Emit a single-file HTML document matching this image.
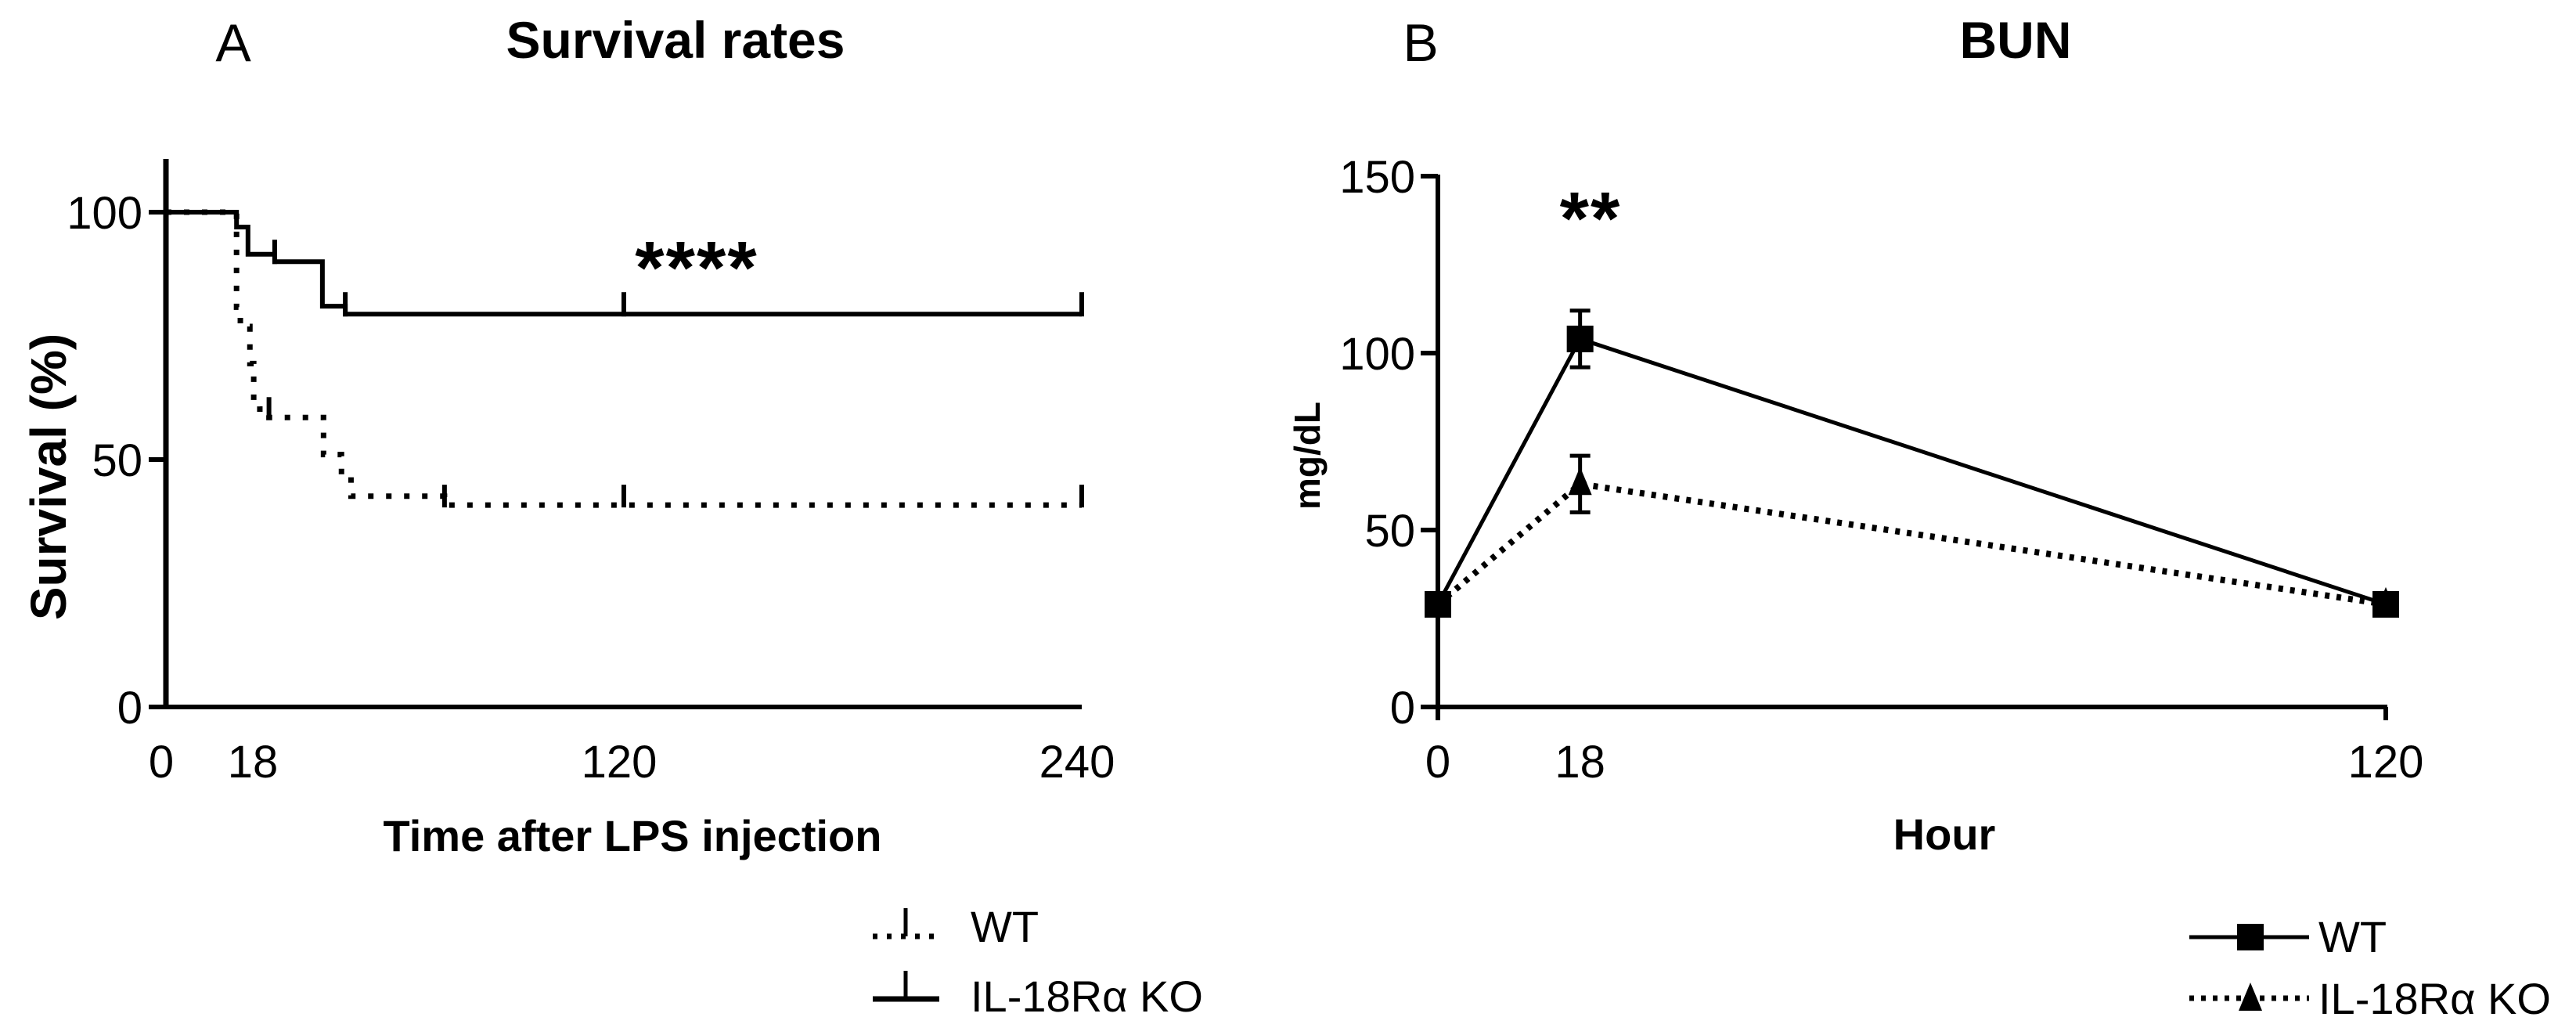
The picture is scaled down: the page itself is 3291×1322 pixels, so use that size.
<!DOCTYPE html>
<html><head><meta charset="utf-8"><style>
html,body{margin:0;padding:0;background:#fff;}
svg{display:block;font-family:"Liberation Sans",Arial,sans-serif;}
</style></head><body>
<svg id="fig" width="3291" height="1322" viewBox="0 0 3291 1322" xmlns="http://www.w3.org/2000/svg">
<g id="pa"></g>
<g id="pb"></g>
</svg>
<script>
// Panel A data (Kaplan-Meier)
const koTimes = [0, 18.5, 21.5, 28.5, 41, 47, 240];
const koSurv  = [100, 97, 91.5, 90, 81, 79.4, 79.4];
const koCensor = [28.5, 47, 120, 240];
const wtTimes = [0, 18.5, 19.5, 22, 23, 24.6, 27, 41.3, 46, 48.5, 73, 240];
const wtSurv  = [100, 80.8, 76.9, 69.4, 61, 60.2, 58.5, 51, 46.8, 42.6, 40.8, 40.8];
const wtCensor = [27, 73, 120, 240];
const aYTicks = [0, 50, 100];
const aXLabels = ["0", "18", "120", "240"];
const aXLabelPos = [0, 24, 120, 240];
// Panel B data
const bHours = [0, 18, 120];
const bWT = [29, 104, 29];
const bWTerr = [0, 8, 0];
const bKO = [29, 63, 29];
const bKOerr = [0, 8, 0];
const bYTicks = [0, 50, 100, 150];
const bXTicks = [0, 18, 120];

const NS = "http://www.w3.org/2000/svg";
function mk(parent, tag, attrs, text){
  const e = document.createElementNS(NS, tag);
  for (const k in attrs) e.setAttribute(k, attrs[k]);
  if (text !== undefined) e.textContent = text;
  parent.appendChild(e);
  return e;
}
const pa = document.getElementById('pa');
const pb = document.getElementById('pb');

// ---------- Panel A ----------
const ax = t => 212 + t * (1382 - 212) / 240;
const ay = s => 903 - s * 6.32;

let t;
t = mk(pa,'text',{x:298,y:78,'font-size':68,'text-anchor':'middle'},'A');
 
t = mk(pa,'text',{x:863,y:74,'font-size':66,'font-weight':'bold','text-anchor':'middle'},'Survival rates');
 

let e = mk(pa,'line',{x1:212,y1:203,x2:212,y2:906,stroke:'#000','stroke-width':7});
 
e = mk(pa,'line',{x1:209,y1:903,x2:1382,y2:903,stroke:'#000','stroke-width':6});
 
aYTicks.forEach(v=>{
  const tk = mk(pa,'line',{x1:190,y1:ay(v),x2:212,y2:ay(v),stroke:'#000','stroke-width':6});
   
  const lb = mk(pa,'text',{x:182,y:ay(v)+21,'font-size':58,'text-anchor':'end'},String(v));
   
});
aXLabels.forEach((l,i)=>{
  const lb = mk(pa,'text',{x:ax(aXLabelPos[i])-6,y:993,'font-size':58,'text-anchor':'middle'},l);
   
});
t = mk(pa,'text',{x:808,y:1087,'font-size':56,'font-weight':'bold','text-anchor':'middle'},'Time after LPS injection');
 
t = mk(pa,'text',{x:0,y:0,'font-size':64,'font-weight':'bold','text-anchor':'middle',transform:'translate(84,609) rotate(-90)'},'Survival (%)');
 

function stepPath(times, surv){
  let d = `M${ax(times[0])},${ay(surv[0])}`;
  for (let i=1;i<times.length;i++){
    d += ` H${ax(times[i])} V${ay(surv[i])}`;
  }
  return d;
}
function survAt(times,surv,tt){
  let s = surv[0];
  for (let i=0;i<times.length;i++) if (times[i] <= tt) s = surv[i];
  return s;
}
e = mk(pa,'path',{d:stepPath(koTimes,koSurv),fill:'none',stroke:'#000','stroke-width':6});
 
koCensor.forEach(c=>{
  const s = survAt(koTimes,koSurv,c);
  const m = mk(pa,'line',{x1:ax(c),y1:ay(s)+3,x2:ax(c),y2:ay(s)-28,stroke:'#000','stroke-width':6});
   
});
e = mk(pa,'path',{d:stepPath(wtTimes,wtSurv),fill:'none',stroke:'#000','stroke-width':7,'stroke-dasharray':'7 16'});
 
wtCensor.forEach(c=>{
  const s = survAt(wtTimes,wtSurv,c);
  const m = mk(pa,'line',{x1:ax(c),y1:ay(s)+3,x2:ax(c),y2:ay(s)-26,stroke:'#000','stroke-width':6});
   
});
t = mk(pa,'text',{x:890,y:375,'font-size':96,'font-weight':'bold','text-anchor':'middle','letter-spacing':2},'****');
 

// legend A
let lg = mk(pa,'g',{});
 
e = mk(lg,'line',{x1:1115,y1:1196,x2:1200,y2:1196,stroke:'#000','stroke-width':7,'stroke-dasharray':'6 12'});
 
e = mk(lg,'line',{x1:1157,y1:1196,x2:1157,y2:1160,stroke:'#000','stroke-width':5});
 
t = mk(lg,'text',{x:1240,y:1203,'font-size':56},'WT');
 
e = mk(lg,'line',{x1:1115,y1:1276,x2:1200,y2:1276,stroke:'#000','stroke-width':7});
 
e = mk(lg,'line',{x1:1157,y1:1276,x2:1157,y2:1240,stroke:'#000','stroke-width':5});
 
t = mk(lg,'text',{x:1240,y:1292,'font-size':56},'IL-18R\u03b1 KO');
 

// ---------- Panel B ----------
const bx = h => 1837 + h * (3048 - 1837) / 120;
const by = v => 903 - v * (903 - 225) / 150;

t = mk(pb,'text',{x:1815,y:78,'font-size':68,'text-anchor':'middle'},'B');
 
t = mk(pb,'text',{x:2575,y:74,'font-size':66,'font-weight':'bold','text-anchor':'middle'},'BUN');
 

e = mk(pb,'line',{x1:1837,y1:223,x2:1837,y2:918,stroke:'#000','stroke-width':6});
 
e = mk(pb,'line',{x1:1815,y1:903,x2:3050,y2:903,stroke:'#000','stroke-width':6});
 
bYTicks.forEach(v=>{
  const tk = mk(pb,'line',{x1:1815,y1:by(v),x2:1837,y2:by(v),stroke:'#000','stroke-width':6});
   
  const lb = mk(pb,'text',{x:1808,y:by(v)+21,'font-size':58,'text-anchor':'end'},String(v));
   
});
bXTicks.forEach(h=>{
  if (h !== 18){
    const tk = mk(pb,'line',{x1:bx(h),y1:903,x2:bx(h),y2:920,stroke:'#000','stroke-width':6});
     
  }
  const lb = mk(pb,'text',{x:bx(h),y:993,'font-size':58,'text-anchor':'middle'},String(h));
   
});
t = mk(pb,'text',{x:2484,y:1085,'font-size':56,'font-weight':'bold','text-anchor':'middle'},'Hour');
 
t = mk(pb,'text',{x:0,y:0,'font-size':46,'font-weight':'bold','text-anchor':'middle',transform:'translate(1686,582) rotate(-90)'},'mg/dL');
 

// KO dotted line
let ptsKO = bHours.map((h,i)=>`${bx(h)},${by(bKO[i])}`).join(' ');
e = mk(pb,'polyline',{points:ptsKO,fill:'none',stroke:'#000','stroke-width':8,'stroke-dasharray':'6 9'});
 
let ptsWT = bHours.map((h,i)=>`${bx(h)},${by(bWT[i])}`).join(' ');
e = mk(pb,'polyline',{points:ptsWT,fill:'none',stroke:'#000','stroke-width':5});
 

function errBar(h,v,err,name){
  if (!err) return;
  const x = bx(h);
  const g = mk(pb,'g',{stroke:'#000','stroke-width':5});
   
  mk(g,'line',{x1:x,y1:by(v+err),x2:x,y2:by(v-err)});
  mk(g,'line',{x1:x-13,y1:by(v+err),x2:x+13,y2:by(v+err)});
  mk(g,'line',{x1:x-13,y1:by(v-err),x2:x+13,y2:by(v-err)});
}
bHours.forEach((h,i)=>{
  errBar(h,bKO[i],bKOerr[i],'ko-error-bar');
  errBar(h,bWT[i],bWTerr[i],'wt-error-bar');
  const tri = mk(pb,'polygon',{points:`${bx(h)},${by(bKO[i])-22} ${bx(h)-15},${by(bKO[i])+14} ${bx(h)+15},${by(bKO[i])+14}`,fill:'#000'});
   
  const sq = mk(pb,'rect',{x:bx(h)-17,y:by(bWT[i])-17,width:34,height:34,fill:'#000'});
   
});
t = mk(pb,'text',{x:2032,y:312,'font-size':96,'font-weight':'bold','text-anchor':'middle','letter-spacing':2},'**');
 

// legend B
lg = mk(pb,'g',{});
 
e = mk(lg,'line',{x1:2797,y1:1197,x2:2950,y2:1197,stroke:'#000','stroke-width':5});
 
e = mk(lg,'rect',{x:2858,y:1180,width:34,height:34,fill:'#000'});
 
t = mk(lg,'text',{x:2962,y:1216,'font-size':56},'WT');
 
e = mk(lg,'line',{x1:2797,y1:1275,x2:2950,y2:1275,stroke:'#000','stroke-width':7,'stroke-dasharray':'6 9'});
 
e = mk(lg,'polygon',{points:'2875,1255 2860,1291 2890,1291',fill:'#000'});
 
t = mk(lg,'text',{x:2962,y:1295,'font-size':56},'IL-18R\u03b1 KO');
 
</script>
</body></html>
